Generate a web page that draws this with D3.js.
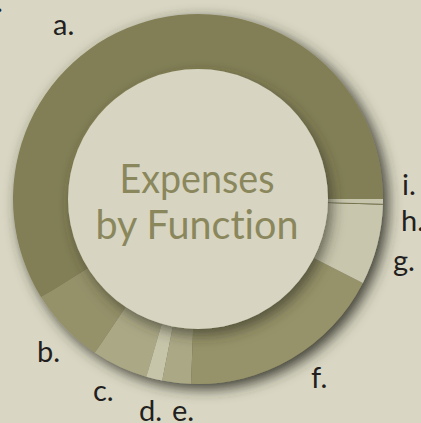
<!DOCTYPE html>
<head>
  <title>Expenses by Function</title>
  <style>
    body { margin: 0; background: #d9d7c3; overflow: hidden; }
    svg { display: block; }
    text { font-variant-ligatures: none; }
  </style>
</head>
<body>
  <script src="https://cdn.jsdelivr.net/npm/d3@7"></script>
  <script>
    // slices in label order, share of total (%)
    var categories = ["a.", "b.", "c.", "d.", "e.", "f.", "g.", "h.", "i."];
    var shares = [58.9, 6.7, 4.9, 1.4, 2.5, 18.1, 7.0, 0.1, 0.4];
    var sliceColors = ["#827f56", "#959169", "#aba886", "#c6c4a9", "#aba886", "#969269", "#c8c6ad", "#7b784f", "#c6c4ab"];
    var titleLines = ["Expenses", "by Function"];

    // label anchor spots (left x, baseline y)
    var labelPos = [[53, 35], [37, 362], [93, 401], [139, 421], [172, 421], [311, 388], [393, 271], [401, 231], [402, 195]];

    var width = 421, height = 423;
    var cx = 198, cy = 199;
    var outerR = 185, innerR = 130;

    var svg = d3.select("body")
        .append("svg")
        .attr("width", width)
        .attr("height", height);

    var defs = svg.append("defs");

    function shadow(id, dx, dy, blur, op) {
      var f = defs.append("filter")
          .attr("id", id)
          .attr("x", "-30%").attr("y", "-30%")
          .attr("width", "160%").attr("height", "160%");
      f.append("feDropShadow")
          .attr("dx", dx).attr("dy", dy)
          .attr("stdDeviation", blur)
          .attr("flood-color", "#2e2d24")
          .attr("flood-opacity", op);
    }
    shadow("ringShadow", 5, 5, 7, 0.9);
    shadow("diskShadow", 4, 6, 7, 0.65);

    // stray dot at the top left corner
    svg.append("text")
        .attr("x", -4)
        .attr("y", 12)
        .style("font-family", "Lato")
        .style("font-size", "29px")
        .style("fill", "#231f20")
        .text(".");

    var pie = d3.pie()
        .sort(null)
        .value(function(d) { return d; })
        .startAngle(Math.PI / 2)
        .endAngle(Math.PI / 2 - 2 * Math.PI);

    var arc = d3.arc()
        .innerRadius(innerR - 10)
        .outerRadius(outerR);

    var ring = svg.append("g")
        .attr("transform", "translate(" + cx + "," + cy + ")")
        .attr("filter", "url(#ringShadow)");

    ring.selectAll("path")
        .data(pie(shares))
        .enter().append("path")
        .attr("d", arc)
        .style("fill", function(d, i) { return sliceColors[i]; });

    // inner disk sits on top of the ring
    svg.append("circle")
        .attr("cx", cx)
        .attr("cy", cy)
        .attr("r", innerR)
        .attr("filter", "url(#diskShadow)")
        .style("fill", "#d7d5c1");

    // title in the middle
    var titleWidths = [155, 203];
    svg.selectAll(".title")
        .data(titleLines)
        .enter().append("text")
        .attr("class", "title")
        .attr("x", cx - 1)
        .attr("y", function(d, i) { return 193 + i * 46; })
        .attr("text-anchor", "middle")
        .attr("textLength", function(d, i) { return titleWidths[i]; })
        .attr("lengthAdjust", "spacingAndGlyphs")
        .style("font-family", "Lato")
        .style("font-size", "41px")
        .style("fill", "#8b875d")
        .text(function(d) { return d; });

    // slice labels
    svg.selectAll(".label")
        .data(categories)
        .enter().append("text")
        .attr("class", "label")
        .attr("x", function(d, i) { return labelPos[i][0]; })
        .attr("y", function(d, i) { return labelPos[i][1]; })
        .style("font-family", "Lato")
        .style("font-size", "29px")
        .style("fill", "#231f20")
        .text(function(d) { return d; });
  </script>
</body>
</html>
